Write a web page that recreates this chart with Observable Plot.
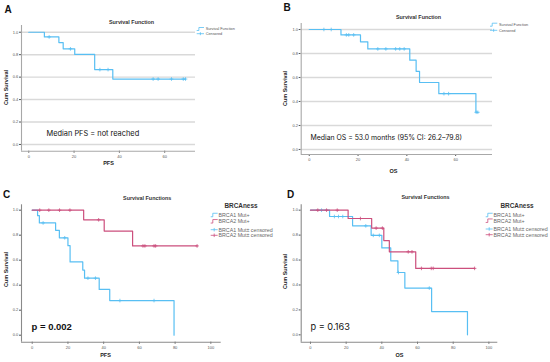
<!DOCTYPE html>
<html><head><meta charset="utf-8">
<script src="https://cdn.jsdelivr.net/npm/d3@7"></script>
<script src="https://cdn.jsdelivr.net/npm/@observablehq/plot@0.6"></script>
<style>
html,body{margin:0;padding:0;background:#fff;}
#root{position:relative;width:550px;height:362px;overflow:hidden;font-family:"Liberation Sans",Arial,sans-serif;background:#fff;}
.panel{position:absolute;width:275px;height:181px;}
.panel svg{position:absolute;left:0;top:0;}
</style></head><body><div id="root"></div>
<script>
// ---------- DATA ----------
const yTicks = [0, 0.2, 0.4, 0.6, 0.8, 1.0];
const xTicksShort = [0, 20, 40, 60];
const xTicksLong = [0, 20, 40, 60, 80, 100];

// A: PFS overall
const pfsTime = [0, 6.9, 13.3, 15.2, 20.3, 29.1, 37.1, 69.2];
const pfsSurv = [1, 0.958, 0.908, 0.852, 0.802, 0.667, 0.583, 0.583];
const pfsCensor = [9.0, 18.4, 31.4, 35.0, 54.9, 57.1, 63.0, 68.2, 69.2];

// B: OS overall
const osTime = [0, 13.0, 21.0, 24.0, 41.2, 43.8, 45.2, 53.1, 68.3, 69.1];
const osSurv = [1, 0.955, 0.897, 0.838, 0.744, 0.651, 0.558, 0.465, 0.31, 0.31];
const osCensor = [6.0, 9.0, 15.2, 16.2, 18.2, 28.1, 31.4, 35.4, 37.1, 38.9, 55.2, 57.1, 68.4, 69.1];

// C: PFS by BRCAness
const pfsB1Time = [0, 3.0, 4.0, 13.1, 15.2, 20.0, 21.2, 28.3, 29.3, 37.5, 43.4, 79.4];
const pfsB1Surv = [1, 0.956, 0.898, 0.839, 0.779, 0.716, 0.586, 0.521, 0.456, 0.366, 0.277, 0];
const pfsB1Censor = [6.1, 18.2, 31.2, 35.4, 49.1, 68.2];
const pfsB2Time = [0, 28.8, 40.3, 56.2, 92.3];
const pfsB2Surv = [1, 0.923, 0.833, 0.714, 0.714];
const pfsB2Censor = [4.2, 9.3, 15.3, 21.1, 37.2, 62.0, 63.1, 68.2, 69.1, 92.3];

// D: OS by BRCAness
const osB1Time = [0, 10.7, 23.6, 34.0, 40.0, 45.0, 49.0, 52.9, 67.9, 88.0];
const osB1Surv = [1, 0.949, 0.874, 0.798, 0.697, 0.594, 0.50, 0.375, 0.187, 0];
const osB1Censor = [6.2, 13.4, 15.7, 18.1, 31.0, 35.2, 38.6, 49.3, 66.6];
const osB2Time = [0, 21.1, 34.3, 41.1, 44.2, 59.0, 92.0];
const osB2Surv = [1, 0.933, 0.856, 0.756, 0.666, 0.533, 0.533];
const osB2Censor = [4.1, 9.0, 15.0, 28.0, 36.8, 40.3, 54.8, 56.9, 62.2, 67.7, 68.8, 92.0];

const groupLabels = ["BRCA1 Mut+", "BRCA2 Mut+", "BRCA1 Mut\u00b1 censored", "BRCA2 Mut\u00b1 censored"];
const simpleLabels = ["Survival Function", "Censored"];

const BLUE = "#58bff3";
const PINK = "#cc4f7d";

// ---------- HELPERS ----------
function levelAt(times, survs, t) {
  let s = survs[0];
  for (let i = 0; i < times.length; i++) if (times[i] <= t) s = survs[i];
  return s;
}

const panels = [
  {letter: "A", left: 0, top: 0, mL: 21, mR: 80, mT: 25, mB: 30.3,
   xDomain: [-3.2, 73.6], yDomain: [-0.06, 1.06], xTicks: xTicksShort, grid: true, axisColor: "#a8a8a8",
   title: "Survival Function", titleX: 131, titleY: 22, ylabX: 6, ylabY: 87, xlab: "PFS", xlabX: 108, xlabY: 163,
   letterX: 7.5, letterY: 9,
   note: "Median PFS = not reached", noteX: 46, noteY: 133, noteSize: 7.4, noteWeight: "normal", noteFamily: "Inter",
   series: [{time: pfsTime, surv: pfsSurv, censor: pfsCensor, color: BLUE}],
   legend: {type: "simple", x: 196.7, ys: [29, 33.7]}},
  {letter: "B", left: 275, top: 0, mL: 25.7, mR: 58, mT: 23, mB: 27,
   xDomain: [-3.3, 75.1], yDomain: [-0.042, 1.05], xTicks: xTicksShort, grid: true, axisColor: "#a8a8a8",
   title: "Survival Function", titleX: 143, titleY: 17, ylabX: 10, ylabY: 88, xlab: "OS", xlabX: 118, xlabY: 170.7,
   letterX: 11.7, letterY: 7.5,
   note: "Median OS = 53.0 months (95% CI: 26.2\u201379.8)", noteX: 35, noteY: 137, noteSize: 6.9, noteWeight: "normal", noteFamily: "Inter",
   series: [{time: osTime, surv: osSurv, censor: osCensor, color: BLUE}],
   legend: {type: "simple", x: 215, ys: [24.7, 30.3]}},
  {letter: "C", left: 0, top: 181, mL: 21, mR: 54.3, mT: 23.3, mB: 20.3,
   xDomain: [-6.0, 105.8], yDomain: [-0.056, 1.043], xTicks: xTicksLong, grid: false, axisColor: "#8a8a8a",
   title: "Survival Functions", titleX: 146.7, titleY: 16.7, ylabX: 6, ylabY: 88, xlab: "PFS", xlabX: 105, xlabY: 174,
   letterX: 6, letterY: 13.3,
   note: "p = 0.002", noteX: 31, noteY: 145.7, noteSize: 9.5, noteWeight: "bold", noteFamily: "Liberation Sans",
   series: [{time: pfsB1Time, surv: pfsB1Surv, censor: pfsB1Censor, color: BLUE},
            {time: pfsB2Time, surv: pfsB2Surv, censor: pfsB2Censor, color: PINK}],
   legend: {type: "group", titleX: 241, titleY: 25, x: 210.7, ys: [34, 40.3, 48.7, 54.3]}},
  {letter: "D", left: 275, top: 181, mL: 25.7, mR: 52.7, mT: 23.3, mB: 20.3,
   xDomain: [-5.2, 105], yDomain: [-0.059, 1.043], xTicks: xTicksLong, grid: false, axisColor: "#8a8a8a",
   title: "Survival Functions", titleX: 150, titleY: 16, ylabX: 10, ylabY: 90, xlab: "OS", xlabX: 124, xlabY: 174,
   letterX: 15, letterY: 13.3,
   note: "p = 0.163", noteX: 35, noteY: 145.7, noteSize: 9.2, noteWeight: "normal", noteFamily: "Inter",
   series: [{time: osB1Time, surv: osB1Surv, censor: osB1Censor, color: BLUE},
            {time: osB2Time, surv: osB2Surv, censor: osB2Censor, color: PINK}],
   legend: {type: "group", titleX: 242, titleY: 25, x: 210.7, ys: [34, 39.7, 48, 53.7]}}
];

const root = document.getElementById("root");

for (const p of panels) {
  const div = document.createElement("div");
  div.className = "panel";
  div.style.left = p.left + "px";
  div.style.top = p.top + "px";
  root.appendChild(div);

  const at = (x, y) => ({frameAnchor: "top-left", dx: x - p.mL, dy: y - p.mT});
  const marks = [];
  if (p.grid) marks.push(Plot.ruleY(yTicks, {stroke: "#d9d9d9", strokeWidth: 1.4}));
  marks.push(Plot.ruleX([p.xDomain[0]], {stroke: p.axisColor, strokeWidth: 1.1}));
  marks.push(Plot.ruleY([p.yDomain[0]], {stroke: p.axisColor, strokeWidth: 1.1}));
  for (const s of p.series) {
    const pts = s.time.map((t, i) => ({t, s: s.surv[i]}));
    marks.push(Plot.line(pts, {x: "t", y: "s", curve: "step-after", stroke: s.color, strokeWidth: 1.2}));
    marks.push(Plot.dot(s.censor, {x: d => d, y: d => levelAt(s.time, s.surv, d), symbol: "plus", r: 1.25, stroke: s.color, strokeWidth: 0.8}));
  }
  // texts
  marks.push(Plot.text([p.title], {...at(p.titleX, p.titleY), textAnchor: "middle", lineAnchor: "middle", fontSize: 5.4, fontWeight: "bold", fill: "#333"}));
  marks.push(Plot.text(["Cum Survival"], {...at(p.ylabX, p.ylabY), rotate: -90, textAnchor: "middle", lineAnchor: "middle", fontSize: 5.5, fontWeight: "bold", fill: "#222"}));
  marks.push(Plot.text([p.xlab], {...at(p.xlabX, p.xlabY), textAnchor: "middle", lineAnchor: "middle", fontSize: 5.5, fontWeight: "bold", fill: "#222"}));
  marks.push(Plot.text([p.letter], {...at(p.letterX, p.letterY), textAnchor: "middle", lineAnchor: "middle", fontSize: 10, fontWeight: "bold", fill: "#111"}));
  marks.push(Plot.text([p.note], {...at(p.noteX, p.noteY), textAnchor: "start", lineAnchor: "middle", fontSize: p.noteSize, fontWeight: p.noteWeight, fontFamily: p.noteFamily, fill: "#111"}));

  const chart = Plot.plot({
    width: 275, height: 181,
    marginLeft: p.mL, marginRight: p.mR, marginTop: p.mT, marginBottom: p.mB,
    style: {fontSize: "4px", fontFamily: "Liberation Sans, Arial, sans-serif", color: "#555", background: "transparent", overflow: "visible"},
    x: {domain: p.xDomain, ticks: p.xTicks, tickSize: 2, tickPadding: 1.5, tickFormat: d3.format("d"), label: null},
    y: {domain: p.yDomain, ticks: yTicks, tickSize: 2, tickPadding: 1.2, tickFormat: d3.format(".1f"), label: null},
    marks
  });
  div.appendChild(chart);

  // legend overlay
  const svg = d3.select(div).append("svg").attr("width", 275).attr("height", 181).style("overflow", "visible");
  const L = p.legend;
  const stepSym = (g, x, y, color, w, h) => g.append("path").attr("d", `M${x},${y + h / 2} H${x + w * 0.3} V${y - h / 2} H${x + w}`).attr("fill", "none").attr("stroke", color).attr("stroke-width", 0.8);
  const plusSym = (g, x, y, color, w, h) => {
    g.append("path").attr("d", `M${x},${y} H${x + w}`).attr("stroke", color).attr("stroke-width", 0.8);
    g.append("path").attr("d", `M${x + w / 2},${y - h / 2} V${y + h / 2}`).attr("stroke", color).attr("stroke-width", 0.8);
  };
  if (L.type === "simple") {
    stepSym(svg, L.x, L.ys[0], BLUE, 7.3, 3);
    plusSym(svg, L.x, L.ys[1], BLUE, 7.3, 3);
    simpleLabels.forEach((t, i) => svg.append("text").attr("x", L.x + 9).attr("y", L.ys[i]).attr("dy", "0.35em")
      .attr("font-size", 3.8).attr("fill", "#555").attr("font-family", "Liberation Sans, Arial, sans-serif").text(t));
  } else {
    svg.append("text").attr("x", L.titleX).attr("y", L.titleY).attr("dy", "0.35em").attr("text-anchor", "middle")
      .attr("font-size", 6.4).attr("font-weight", "bold").attr("fill", "#333").attr("font-family", "Liberation Sans, Arial, sans-serif").text("BRCAness");
    const cols = [BLUE, PINK, BLUE, PINK];
    groupLabels.forEach((t, i) => {
      if (i < 2) stepSym(svg, L.x, L.ys[i], cols[i], 7, 3.5); else plusSym(svg, L.x, L.ys[i], cols[i], 7, 3.5);
      svg.append("text").attr("x", L.x + 7.8).attr("y", L.ys[i]).attr("dy", "0.35em")
        .attr("font-size", 5.3).attr("fill", "#666").attr("font-family", "Liberation Sans, Arial, sans-serif").text(t);
    });
  }
}
</script>
</body></html>
